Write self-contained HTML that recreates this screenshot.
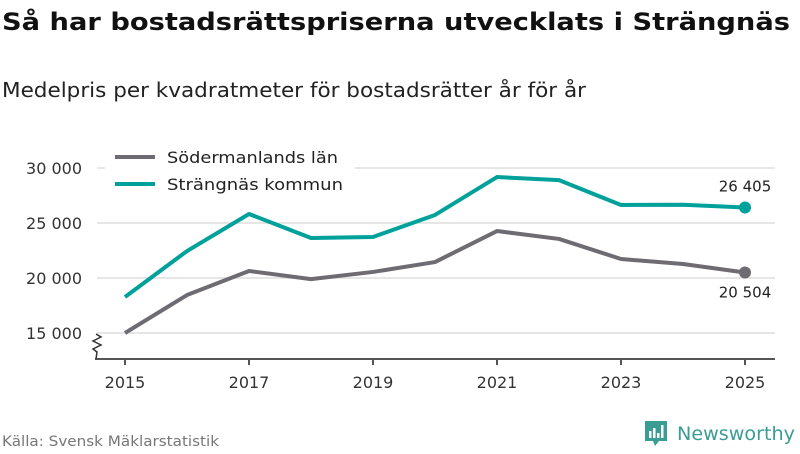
<!DOCTYPE html>
<html><head><meta charset="utf-8"><style>
body{margin:0;width:800px;height:450px;background:#fff;font-family:"DejaVu Sans","Liberation Sans",sans-serif;overflow:hidden}
svg text{font-family:"DejaVu Sans","Liberation Sans",sans-serif}
</style></head><body>
<svg width="800" height="450" xmlns="http://www.w3.org/2000/svg">
<text x="2" y="30" font-size="24" font-weight="bold" fill="#111" textLength="788" lengthAdjust="spacingAndGlyphs">Så har bostadsrättspriserna utvecklats i Strängnäs</text>
<text x="2" y="97" font-size="20" fill="#222" textLength="584" lengthAdjust="spacingAndGlyphs">Medelpris per kvadratmeter för bostadsrätter år för år</text>
<g id="grid"></g>
<g id="marks"></g>
<g>
<rect x="105" y="143" width="250" height="55" fill="#fff"/>
<line x1="115" y1="157" x2="155" y2="157" stroke="#6e6c72" stroke-width="4"/>
<text x="167" y="163" font-size="16" fill="#222" textLength="171" lengthAdjust="spacingAndGlyphs">Södermanlands län</text>
<line x1="115" y1="184" x2="155" y2="184" stroke="#00a19a" stroke-width="4"/>
<text x="167" y="190" font-size="16" fill="#222" textLength="176" lengthAdjust="spacingAndGlyphs">Strängnäs kommun</text>
</g>
<text x="2" y="446" font-size="14" fill="#777" textLength="217" lengthAdjust="spacingAndGlyphs">Källa: Svensk Mäklarstatistik</text>
<g>
<path d="M645 421 h22 v20 h-8 l-4 5 l-2 -5 h-8 z" fill="#3a9d94"/>
<rect x="649" y="431" width="2.5" height="7" fill="#fff"/><rect x="653" y="428" width="2.5" height="10" fill="#fff"/><rect x="657" y="433" width="2.5" height="5" fill="#fff"/><rect x="661" y="425" width="2.5" height="13" fill="#fff"/>
<text x="677" y="440" font-size="19" fill="#3a9d94" textLength="118" lengthAdjust="spacingAndGlyphs">Newsworthy</text>
</g>
</svg>
<script>
const years=[2015,2016,2017,2018,2019,2020,2021,2022,2023,2024,2025];
const sodermanland=[15000,18450,20640,19900,20550,21450,24270,23550,21730,21270,20504];
const strangnas=[18270,22450,25820,23640,23730,25730,29180,28900,26640,26660,26405];
const yTicks=[15000,20000,25000,30000];
const yTickLabels=["15 000","20 000","25 000","30 000"];
const xTicks=[2015,2017,2019,2021,2023,2025];
const NS="http://www.w3.org/2000/svg";
const X=y=>125+(y-2015)*62;
const Y=v=>333-(v-15000)*0.011;
function mk(t,a,p){const e=document.createElementNS(NS,t);for(const k in a)e.setAttribute(k,a[k]);p.appendChild(e);return e;}
const g=document.getElementById('grid'),m=document.getElementById('marks');
yTicks.forEach((v,i)=>{
 const l=mk('line',{x1:97,x2:775,y1:Y(v),y2:Y(v),stroke:'#ddd','stroke-width':1.5},g);
 
 
 const t=mk('text',{x:82,y:Y(v)+6,'font-size':16,fill:'#333','text-anchor':'end'},g);t.textContent=yTickLabels[i];
 
 
});
const ax=mk('line',{x1:95,x2:775,y1:359,y2:359,stroke:'#555','stroke-width':2},g);


const zz=mk('polyline',{points:'96,334 101,337 93,341 101,345 93,349 97,352 96,359',fill:'none',stroke:'#333','stroke-width':1.5},g);


xTicks.forEach(y=>{
 mk('line',{x1:X(y),x2:X(y),y1:359,y2:365,stroke:'#555','stroke-width':2},g);
 const t=mk('text',{x:X(y),y:388,'font-size':16,fill:'#333','text-anchor':'middle'},g);t.textContent=y;
 
 
});
function series(d,c,name,lbl,dy){
 const p=mk('polyline',{points:d.map((v,i)=>X(years[i])+','+Y(v)).join(' '),fill:'none',stroke:c,'stroke-width':4,'stroke-linejoin':'round'},m);
 
 
 const n=d.length-1;
 const cc=mk('circle',{cx:X(years[n]),cy:Y(d[n]),r:6,fill:c},m);
 
 
 const t=mk('text',{x:X(years[n]),y:Y(d[n])+dy,'font-size':15,fill:'#222','text-anchor':'middle'},m);
 t.textContent=lbl;
 
 
}
series(sodermanland,'#6e6c72','sodermanland','20 504',25);
series(strangnas,'#00a19a','strangnas','26 405',-16);
</script>
</body></html>
